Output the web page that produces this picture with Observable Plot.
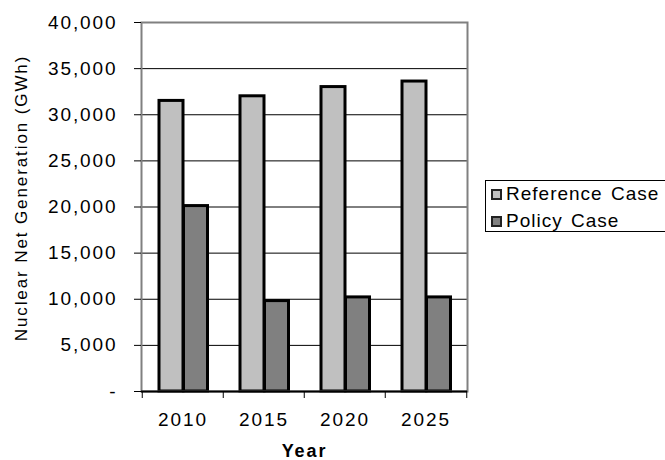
<!DOCTYPE html>
<html>
<head>
<meta charset="utf-8">
<script src="https://cdn.jsdelivr.net/npm/d3@7"></script>
<script src="https://cdn.jsdelivr.net/npm/@observablehq/plot@0.6"></script>
<style>
  html, body { margin: 0; padding: 0; background: #fff; }
  #chart { position: relative; width: 665px; height: 460px; overflow: hidden;
           font-family: "Liberation Sans", Arial, sans-serif; }
  .legend { position: absolute; left: 485px; top: 180px; width: 200px; height: 52px;
            border: 1px solid #000; box-sizing: border-box; background: #fff;
            font-size: 19px; letter-spacing: 1px; word-spacing: 2px; color: #000; }
  .legend .row { position: absolute; left: 5px; display: flex; align-items: center; height: 20px; }
  .legend .sw { width: 7px; height: 7px; border: 2px solid #222; margin-right: 4px; }
</style>
</head>
<body>
<div id="chart"></div>
<script>
// Nuclear net generation by year, two cases (GWh)
const years = ["2010", "2015", "2020", "2025"];
const referenceCase = [31500, 32000, 33000, 33600];
const policyCase = [20100, 9800, 10200, 10200];
const seriesNames = ["Reference Case", "Policy Case"];
const seriesColors = ["#c0c0c0", "#808080"];
const yTicks = [0, 5000, 10000, 15000, 20000, 25000, 30000, 35000, 40000];
const yTitle = "Nuclear Net Generation (GWh)";
const xTitle = "Year";

const rows = years.flatMap((year, i) => [
  {year, series: seriesNames[0], value: referenceCase[i]},
  {year, series: seriesNames[1], value: policyCase[i]}
]);

const W = 665, H = 460;
const mL = 141, mR = 198, mT = 22, mB = 69;
const bw = (W - mL - mR) / years.length;   // width of one year band
const barW = 24.5, gapL = 17;              // bar width and left gap inside a band

const fmt = d3.format(",");

const plot = Plot.plot({
  width: W,
  height: H,
  marginLeft: mL, marginRight: mR, marginTop: mT, marginBottom: mB,
  style: {fontFamily: "Liberation Sans, Arial, sans-serif", fontSize: "19px", letterSpacing: "1.9px", color: "#000", background: "#fff"},
  x: {type: "band", domain: years, padding: 0, label: null},
  y: {domain: [0, 40000], label: null},
  marks: [
    Plot.ruleY(yTicks.filter(v => v > 0 && v < 40000), {stroke: "#000", strokeWidth: 1}),
    Plot.barY(rows.filter(d => d.series === seriesNames[0]), {
      x: "year", y: "value", fill: seriesColors[0], stroke: "#000", strokeWidth: 3,
      insetLeft: gapL, insetRight: bw - gapL - barW
    }),
    Plot.barY(rows.filter(d => d.series === seriesNames[1]), {
      x: "year", y: "value", fill: seriesColors[1], stroke: "#000", strokeWidth: 3,
      insetLeft: gapL + barW, insetRight: bw - gapL - 2 * barW
    }),
    Plot.frame({stroke: "#808080", strokeWidth: 2}),
    Plot.ruleY([0], {stroke: "#000", strokeWidth: 2}),
    // y axis: ticks and labels
    Plot.axisY(yTicks, {
      tickSize: 7, tickPadding: 17, label: null,
      tickFormat: v => v === 0 ? "-" : fmt(v)
    }),
    // y axis title, rotated, left of the tick labels
    Plot.text([yTitle], {
      text: d => d, frameAnchor: "left", textAnchor: "middle", rotate: -90, dx: -120, dy: -9,
      fontSize: 17, letterSpacing: "1px", fill: "#000"
    }),
    // x axis: tick marks on band boundaries
    Plot.axisX({tickSize: 7, dx: -bw / 2, text: null, label: null}),
    Plot.axisX([years[years.length - 1]], {tickSize: 7, dx: bw / 2, text: null, label: null}),
    // x axis: year labels and title
    Plot.axisX({tickSize: 0, tickPadding: 21, label: null}),
    Plot.axisX({
      tickSize: 0, text: null, label: xTitle, labelAnchor: "center", labelArrow: "none",
      labelOffset: 65, fontWeight: "bold", fontSize: 18, letterSpacing: "1.5px"
    })
  ]
});

const chart = document.getElementById("chart");
chart.appendChild(plot);

// legend box on the right of the plot area
const legend = document.createElement("div");
legend.className = "legend";
seriesNames.forEach((name, i) => {
  const row = document.createElement("div");
  row.className = "row";
  row.style.top = (3 + i * 27) + "px";
  const sw = document.createElement("span");
  sw.className = "sw";
  sw.style.background = seriesColors[i];
  const label = document.createElement("span");
  label.textContent = name;
  row.appendChild(sw);
  row.appendChild(label);
  legend.appendChild(row);
});
chart.appendChild(legend);
</script>
</body>
</html>
